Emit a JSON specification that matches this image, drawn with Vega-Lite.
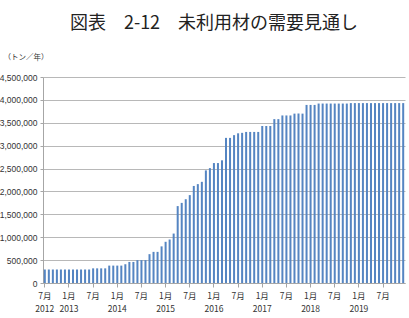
{
  "$schema": "https://vega.github.io/schema/vega-lite/v6.json",
  "autosize": "none",
  "width": 362,
  "height": 206,
  "padding": {"left": 43, "top": 77, "right": 4, "bottom": 35},
  "background": "white",
  "title": {
    "text": "図表　2-12　未利用材の需要見通し",
    "font": "Noto Sans CJK JP",
    "fontSize": 18,
    "fontWeight": "normal",
    "color": "#222222",
    "anchor": "middle",
    "offset": 20,
    "dx": -10
  },
  "config": {
    "view": {"stroke": null},
    "axis": {
      "labelFont": "Liberation Sans",
      "labelFontSize": 8.5,
      "labelColor": "#333333",
      "titleFont": "Noto Sans CJK JP"
    }
  },
  "data": {
    "values": [
      {"month": "2012-07", "v": 295000}, {"month": "2012-08", "v": 295000}, {"month": "2012-09", "v": 295000},
      {"month": "2012-10", "v": 295000}, {"month": "2012-11", "v": 295000}, {"month": "2012-12", "v": 295000},
      {"month": "2013-01", "v": 295000}, {"month": "2013-02", "v": 295000}, {"month": "2013-03", "v": 295000},
      {"month": "2013-04", "v": 295000}, {"month": "2013-05", "v": 295000}, {"month": "2013-06", "v": 295000},
      {"month": "2013-07", "v": 320000}, {"month": "2013-08", "v": 320000}, {"month": "2013-09", "v": 320000},
      {"month": "2013-10", "v": 320000}, {"month": "2013-11", "v": 380000}, {"month": "2013-12", "v": 380000},
      {"month": "2014-01", "v": 380000}, {"month": "2014-02", "v": 380000}, {"month": "2014-03", "v": 410000},
      {"month": "2014-04", "v": 460000}, {"month": "2014-05", "v": 460000}, {"month": "2014-06", "v": 500000},
      {"month": "2014-07", "v": 500000}, {"month": "2014-08", "v": 500000}, {"month": "2014-09", "v": 630000},
      {"month": "2014-10", "v": 680000}, {"month": "2014-11", "v": 680000}, {"month": "2014-12", "v": 800000},
      {"month": "2015-01", "v": 900000}, {"month": "2015-02", "v": 950000}, {"month": "2015-03", "v": 1080000},
      {"month": "2015-04", "v": 1680000}, {"month": "2015-05", "v": 1750000}, {"month": "2015-06", "v": 1830000},
      {"month": "2015-07", "v": 1920000}, {"month": "2015-08", "v": 2120000}, {"month": "2015-09", "v": 2160000},
      {"month": "2015-10", "v": 2210000}, {"month": "2015-11", "v": 2460000}, {"month": "2015-12", "v": 2510000},
      {"month": "2016-01", "v": 2620000}, {"month": "2016-02", "v": 2620000}, {"month": "2016-03", "v": 2680000},
      {"month": "2016-04", "v": 3170000}, {"month": "2016-05", "v": 3170000}, {"month": "2016-06", "v": 3230000},
      {"month": "2016-07", "v": 3270000}, {"month": "2016-08", "v": 3280000}, {"month": "2016-09", "v": 3300000},
      {"month": "2016-10", "v": 3300000}, {"month": "2016-11", "v": 3300000}, {"month": "2016-12", "v": 3300000},
      {"month": "2017-01", "v": 3430000}, {"month": "2017-02", "v": 3430000}, {"month": "2017-03", "v": 3430000},
      {"month": "2017-04", "v": 3580000}, {"month": "2017-05", "v": 3580000}, {"month": "2017-06", "v": 3660000},
      {"month": "2017-07", "v": 3660000}, {"month": "2017-08", "v": 3660000}, {"month": "2017-09", "v": 3700000},
      {"month": "2017-10", "v": 3700000}, {"month": "2017-11", "v": 3700000}, {"month": "2017-12", "v": 3890000},
      {"month": "2018-01", "v": 3890000}, {"month": "2018-02", "v": 3890000}, {"month": "2018-03", "v": 3920000},
      {"month": "2018-04", "v": 3920000}, {"month": "2018-05", "v": 3920000}, {"month": "2018-06", "v": 3920000},
      {"month": "2018-07", "v": 3920000}, {"month": "2018-08", "v": 3920000}, {"month": "2018-09", "v": 3920000},
      {"month": "2018-10", "v": 3920000}, {"month": "2018-11", "v": 3930000}, {"month": "2018-12", "v": 3930000},
      {"month": "2019-01", "v": 3930000}, {"month": "2019-02", "v": 3930000}, {"month": "2019-03", "v": 3930000},
      {"month": "2019-04", "v": 3930000}, {"month": "2019-05", "v": 3930000}, {"month": "2019-06", "v": 3930000},
      {"month": "2019-07", "v": 3930000}, {"month": "2019-08", "v": 3930000}, {"month": "2019-09", "v": 3930000},
      {"month": "2019-10", "v": 3930000}, {"month": "2019-11", "v": 3930000}, {"month": "2019-12", "v": 3930000}
    ]
  },
  "mark": {"type": "bar", "color": "#5585C2"},
  "encoding": {
    "x": {
      "field": "month",
      "type": "ordinal",
      "sort": null,
      "scale": {"paddingInner": 0.5, "paddingOuter": 0.2},
      "axis": {
        "title": null,
        "values": ["2012-07", "2013-01", "2013-07", "2014-01", "2014-07", "2015-01", "2015-07", "2016-01", "2016-07", "2017-01", "2017-07", "2018-01", "2018-07", "2019-01", "2019-07"],
        "labelExpr": "(slice(datum.value,5)=='01' || datum.value=='2012-07') ? [toNumber(slice(datum.value,5)) + '月', slice(datum.value,0,4)] : toNumber(slice(datum.value,5)) + '月'",
        "labelAngle": 0,
        "labelFont": "Noto Sans CJK JP",
        "labelFontSize": 8.5,
        "labelLineHeight": 13,
        "labelPadding": 4,
        "domainColor": "#A6A6A6",
        "tickColor": "#A6A6A6",
        "tickSize": 4,
        "grid": false
      }
    },
    "y": {
      "field": "v",
      "type": "quantitative",
      "scale": {"domain": [0, 4500000], "nice": false},
      "axis": {
        "values": [0, 500000, 1000000, 1500000, 2000000, 2500000, 3000000, 3500000, 4000000, 4500000],
        "format": ",.0f",
        "title": "（トン／年）",
        "titleAngle": 0,
        "titleAlign": "left",
        "titleBaseline": "middle",
        "titleX": -40,
        "titleY": -20,
        "titleFontSize": 7.5,
        "titleFontWeight": "normal",
        "titleColor": "#333333",
        "labelPadding": 3,
        "tickSize": 3,
        "domainColor": "#A6A6A6",
        "tickColor": "#A6A6A6",
        "gridColor": "#B8B8B8",
        "gridWidth": 1
      }
    }
  }
}
